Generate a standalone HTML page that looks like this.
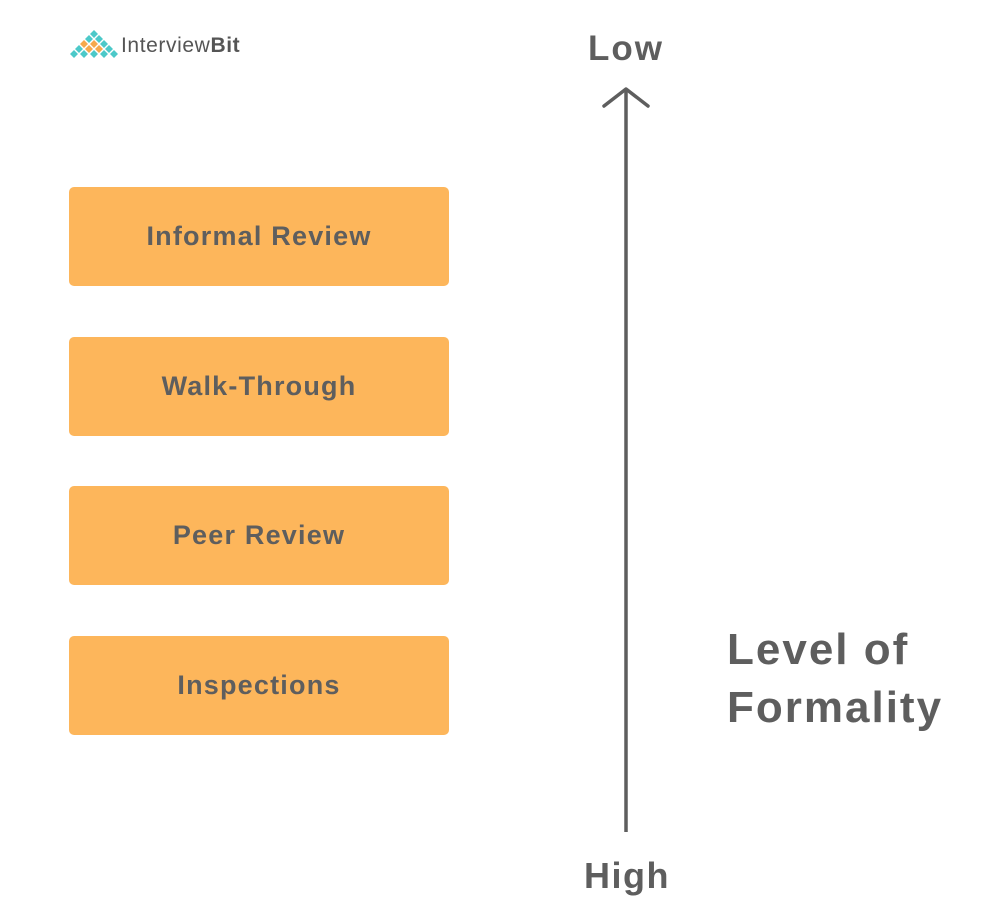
<!DOCTYPE html>
<html><head><style>
body{margin:0;width:1006px;height:918px;background:#fff;position:relative;overflow:hidden;font-family:"Liberation Sans",sans-serif;color:#5e5e5e}
.b{position:absolute;left:69px;width:380px;height:99px;background:#fdb65b;border-radius:5px;display:flex;align-items:center;justify-content:center;font-weight:bold;font-size:27px;letter-spacing:1.2px;color:#5e5e5e}
.t{position:absolute;font-weight:bold}
</style></head><body>
<svg style="position:absolute;left:68px;top:28px" width="52" height="34">
<g>
<polygon points="26,2 30,6 26,10 22,6" fill="#4cc9c9"/>
<polygon points="21,7 25,11 21,15 17,11" fill="#4cc9c9"/><polygon points="31,7 35,11 31,15 27,11" fill="#4cc9c9"/>
<polygon points="16,12 20,16 16,20 12,16" fill="#f6a84c"/><polygon points="26,12 30,16 26,20 22,16" fill="#f6a84c"/><polygon points="36,12 40,16 36,20 32,16" fill="#4cc9c9"/>
<polygon points="11,17 15,21 11,25 7,21" fill="#4cc9c9"/><polygon points="21,17 25,21 21,25 17,21" fill="#f6a84c"/><polygon points="31,17 35,21 31,25 27,21" fill="#f6a84c"/><polygon points="41,17 45,21 41,25 37,21" fill="#4cc9c9"/>
<polygon points="6,22 10,26 6,30 2,26" fill="#4cc9c9"/><polygon points="16,22 20,26 16,30 12,26" fill="#4cc9c9"/><polygon points="26,22 30,26 26,30 22,26" fill="#4cc9c9"/><polygon points="36,22 40,26 36,30 32,26" fill="#4cc9c9"/><polygon points="46,22 50,26 46,30 42,26" fill="#4cc9c9"/>
</g></svg>
<div class="t" style="left:121px;top:34px;font-size:21px;font-weight:normal;color:#555;letter-spacing:0.6px">Interview<b>Bit</b></div>
<div class="b" style="top:187px">Informal Review</div>
<div class="b" style="top:337px">Walk-Through</div>
<div class="b" style="top:486px">Peer Review</div>
<div class="b" style="top:636px">Inspections</div>
<svg style="position:absolute;left:0;top:0" width="1006" height="918">
<line x1="626" y1="90" x2="626" y2="832" stroke="#5e5e5e" stroke-width="3.5"/>
<polyline points="604,106 626,89 648,106" fill="none" stroke="#5e5e5e" stroke-width="3.5" stroke-linejoin="round" stroke-linecap="round"/>
</svg>
<div class="t" style="left:588px;top:29px;font-size:35px;letter-spacing:2px">Low</div>
<div class="t" style="left:584px;top:855px;font-size:36px;letter-spacing:1.5px">High</div>
<div class="t" style="left:727px;top:621px;font-size:44px;line-height:58px;letter-spacing:2px">Level of<br>Formality</div>
</body></html>
